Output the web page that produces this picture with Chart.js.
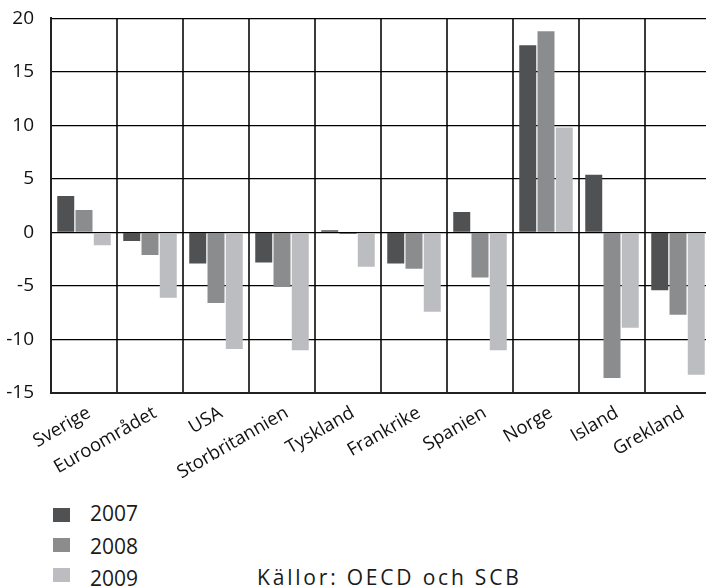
<!DOCTYPE html>
<html lang="sv">
<head>
<meta charset="utf-8">
<script src="https://cdn.jsdelivr.net/npm/chart.js@4/dist/chart.umd.min.js"></script>
<style>
  html, body { margin: 0; padding: 0; background: #fff; overflow: hidden; }
  body { width: 706px; height: 587px; position: relative; font-family: "Open Sans", "Noto Sans", sans-serif; color: #1a1a1a; }
  #wrap { position: absolute; left: 0; top: -10px; width: 712px; height: 490px; }
  .legend { position: absolute; left: 53px; top: 0; font-size: 21px; }
  .legend .sw { position: absolute; left: 0; width: 17px; height: 14px; }
  .legend .tx { position: absolute; left: 37px; line-height: 21px; white-space: nowrap; }
  .source { position: absolute; left: 257px; top: 565px; font-size: 21px; letter-spacing: 2.8px; line-height: 24px; white-space: nowrap; }
</style>
</head>
<body>
<div id="wrap"><canvas id="chart" width="712" height="490"></canvas></div>
<div class="legend" id="legend"></div>
<div class="source">Källor: OECD och SCB</div>
<script>
// Länder och värden per år (procent)
const categories = ['Sverige', 'Euroområdet', 'USA', 'Storbritannien', 'Tyskland', 'Frankrike', 'Spanien', 'Norge', 'Island', 'Grekland'];
const years = ['2007', '2008', '2009'];
const values2007 = [3.4, -0.8, -2.9, -2.8, 0.2, -2.9, 1.9, 17.5, 5.4, -5.4];
const values2008 = [2.1, -2.1, -6.6, -5.1, -0.15, -3.4, -4.2, 18.8, -13.6, -7.7];
const values2009 = [-1.2, -6.1, -10.9, -11.0, -3.2, -7.4, -11.0, 9.8, -8.9, -13.3];
const yMin = -15, yMax = 20, yStep = 5;

const colors = ['#505153', '#8b8c8e', '#bcbdc0'];
// Tysklands stapel för 2008 ritas i blått
const colors2008 = categories.map((c, i) => (i === 4 ? '#1a7fd4' : colors[1]));

const FONT = '"Open Sans", "Noto Sans", sans-serif';

new Chart(document.getElementById('chart'), {
  type: 'bar',
  data: {
    labels: categories,
    datasets: [
      { label: years[0], data: values2007, backgroundColor: colors[0] },
      { label: years[1], data: values2008, backgroundColor: colors2008 },
      { label: years[2], data: values2009, backgroundColor: colors[2] }
    ]
  },
  options: {
    responsive: false,
    animation: false,
    devicePixelRatio: 1,
    categoryPercentage: 0.83,
    barPercentage: 0.93,
    layout: { padding: { top: 6, right: 1, left: 0, bottom: 0 } },
    plugins: { legend: { display: false }, tooltip: { enabled: false } },
    scales: {
      x: {
        grid: { offset: true, color: '#3a3a3a', lineWidth: 2, drawTicks: false },
        border: { color: '#222', width: 2 },
        ticks: {
          color: '#111',
          font: { family: FONT, size: 18.5 },
          maxRotation: 30,
          minRotation: 30,
          padding: 9,
          labelOffset: 5,
          autoSkip: false
        },
        afterFit: s => { s.height = 87; }
      },
      y: {
        min: yMin,
        max: yMax,
        grid: { color: '#000', lineWidth: 1.2, drawTicks: false },
        border: { color: '#222', width: 2 },
        ticks: {
          stepSize: yStep,
          color: '#111',
          font: { family: FONT, size: 19 },
          padding: 17
        },
        afterFit: s => { s.width = 51; }
      }
    }
  }
});

// Förklaring under diagrammet
const legend = document.getElementById('legend');
const swatchTops = [508, 538, 568];
const textTops = [503, 536, 568];
years.forEach((y, i) => {
  const sw = document.createElement('span');
  sw.className = 'sw';
  sw.style.top = swatchTops[i] + 'px';
  sw.style.background = colors[i];
  const tx = document.createElement('span');
  tx.className = 'tx';
  tx.style.top = textTops[i] + 'px';
  tx.textContent = y;
  legend.appendChild(sw);
  legend.appendChild(tx);
});
</script>
</body>
</html>
